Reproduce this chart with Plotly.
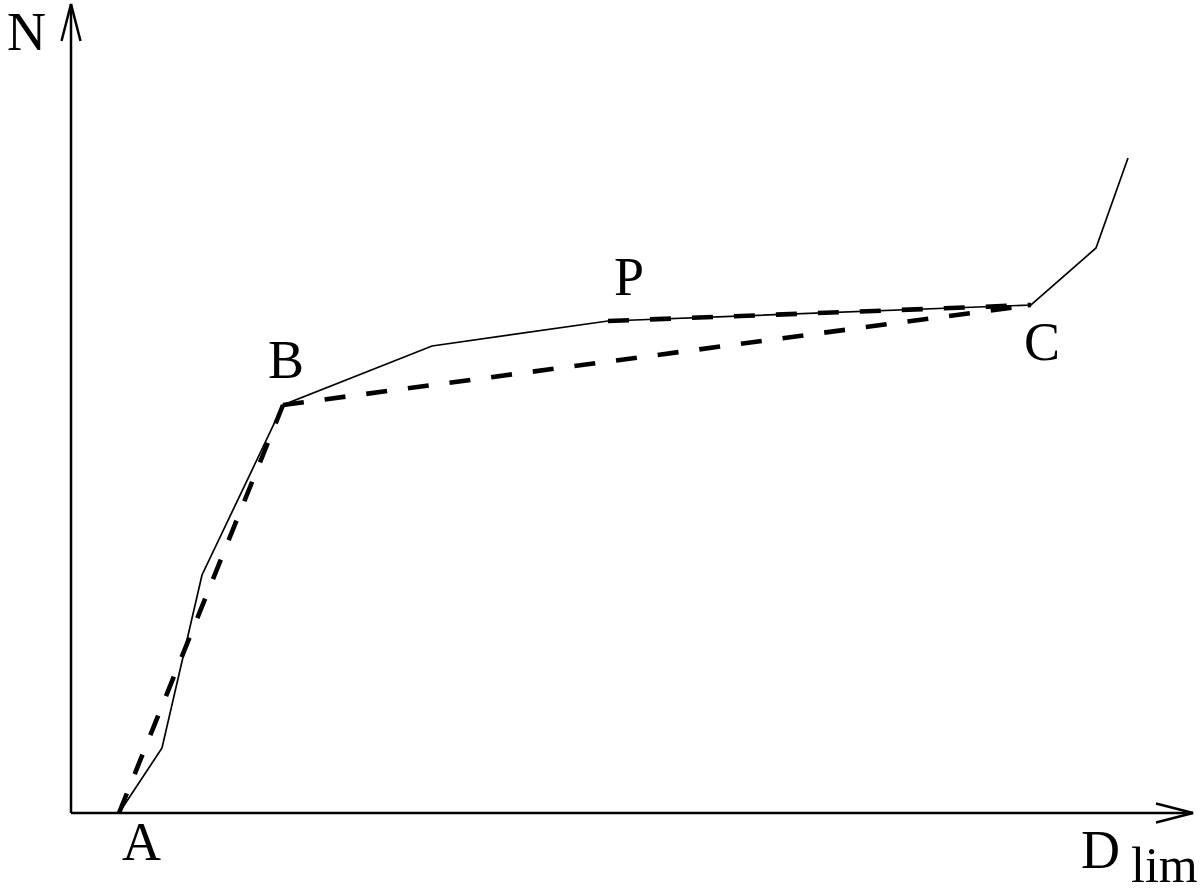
import plotly.graph_objects as go

# Measured curve N vs D_lim (units: arbitrary, origin at axis intersection)
curve_x = [48, 91, 131, 212, 361, 537, 960, 1025, 1057]
curve_y = [0, 65, 238, 408, 467, 492, 508, 565, 655]

# Key points
point_names = ["A", "B", "P", "C"]
point_x = [48, 212, 537, 960]
point_y = [0, 408, 492, 508]

# Dashed approximations (pairs of key points)
dashed_segments = [("A", "B"), ("B", "C"), ("P", "C")]

# Label positions
label_text = ["A", "B", "P", "C", "N", "D"]
label_x = [70, 215, 558, 971, -45, 1029]
label_y = [-29, 453, 536, 471, 781, -37]

pt = dict(zip(point_names, zip(point_x, point_y)))

fig = go.Figure()

# Solid curve
fig.add_trace(go.Scatter(x=curve_x, y=curve_y, mode="lines",
                         line=dict(color="black", width=1.7), hoverinfo="skip"))

# Dashed lines
for a, b in dashed_segments:
    fig.add_trace(go.Scatter(x=[pt[a][0], pt[b][0]], y=[pt[a][1], pt[b][1]], mode="lines",
                             line=dict(color="black", width=4.6, dash="21px,21px"),
                             hoverinfo="skip"))

# Axes with open arrowheads
x_end = 1122
y_end = 809
ah_len = 37
ah_half = 9.5
axis_line = dict(color="black", width=2.5)
fig.add_shape(type="line", x0=0, y0=0, x1=x_end, y1=0, line=axis_line)
fig.add_shape(type="line", x0=0, y0=0, x1=0, y1=y_end, line=axis_line)
fig.add_shape(type="path",
              path=f"M {x_end-ah_len},{ah_half} L {x_end},0 L {x_end-ah_len},{-ah_half}",
              line=axis_line)
fig.add_shape(type="path",
              path=f"M {-ah_half},{y_end-ah_len} L 0,{y_end} L {ah_half},{y_end-ah_len}",
              line=axis_line)

font = dict(family="Liberation Serif", size=54, color="black")
for t, x, y in zip(label_text, label_x, label_y):
    fig.add_annotation(x=x, y=y, text=t, showarrow=False, font=font,
                       xanchor="center", yanchor="middle")
fig.add_annotation(x=1093, y=-52, text="lim", showarrow=False,
                   font=dict(family="Liberation Serif", size=50, color="black"),
                   xanchor="center", yanchor="middle")

fig.update_layout(
    width=1200, height=889,
    margin=dict(l=0, r=0, t=0, b=0),
    paper_bgcolor="white", plot_bgcolor="white",
    showlegend=False,
    xaxis=dict(range=[-71, 1129], visible=False, fixedrange=True),
    yaxis=dict(range=[-76, 813], visible=False, fixedrange=True),
)

fig.write_html("out.html", config={"displayModeBar": False},
               post_script="document.body.style.margin='0';document.documentElement.style.overflow='hidden';")
